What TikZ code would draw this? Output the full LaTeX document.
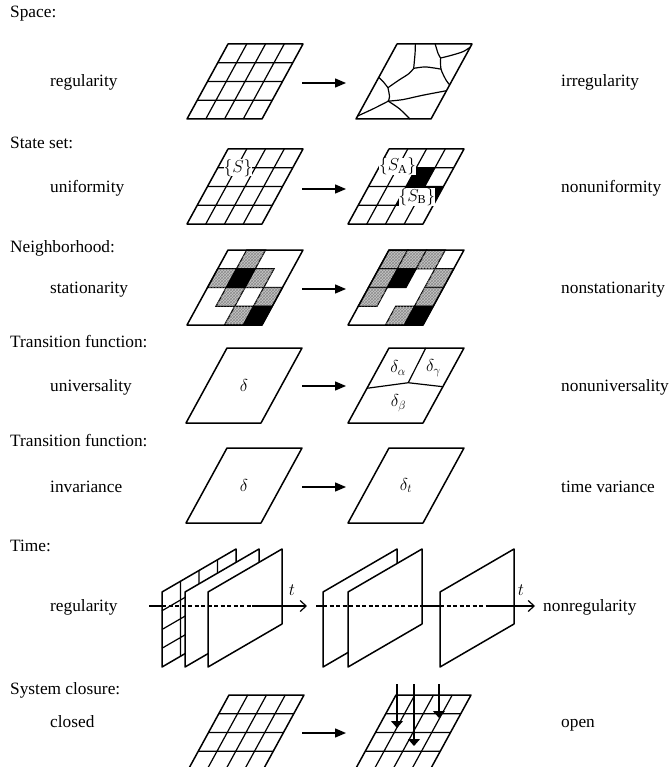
\documentclass[tikz,border=0pt]{standalone}
\usepackage{fontspec}
\setmainfont{Liberation Serif}
\usetikzlibrary{arrows.meta,patterns}

\newcommand\sqc[2]{(#1/4,#2/4) -- ++(0.25,0) -- ++(0,0.25) -- ++(-0.25,0) -- cycle}

\begin{document}
\begin{tikzpicture}[x=1pt, y=-1pt,
  font=\fontsize{17.3}{20}\selectfont,
  lbl/.style={anchor=base west, inner sep=0pt},
  rim/.style={line width=1.5pt, line join=round},
  gl/.style={line width=1.2pt},
  pgram/.style={shift={#1}, x={(75pt,0pt)}, y={(41pt,75pt)}},
  plane/.style={shift={#1}, x={(74pt,43pt)}, y={(0pt,75pt)}},
  shd/.style={fill=gray!45, postaction={pattern=crosshatch, pattern color=gray!90}},
  blk/.style={fill=black},
  tag/.style={fill=white, inner sep=0pt},
  arr/.style={line width=1.4pt, -{Triangle[length=11pt,width=9pt]}},
  drop/.style={line width=1.1pt, -{Triangle[length=7pt,width=12pt]}},
  axis/.style={line width=1.2pt},
  hid/.style={line width=1.2pt, dash pattern=on 4pt off 2.5pt}]
\useasboundingbox[fill=white] (0,0) rectangle (669,767);

\node[lbl] (hspace) at (10,18) {Space:};
\node[lbl] (reg) at (50,87) {regularity};
\node[lbl] (irreg) at (561,87) {irregularity};
\node[lbl] (hstate) at (10,149) {State set:};
\node[lbl] (unif) at (50,193) {uniformity};
\node[lbl] (nunif) at (561,193) {nonuniformity};
\node[lbl] (hnbh) at (10,252) {Neighborhood:};
\node[lbl] (stat) at (50,293) {stationarity};
\node[lbl] (nstat) at (561,293) {nonstationarity};
\node[lbl] (htf) at (10,347) {Transition function:};
\node[lbl] (univ) at (50,391) {universality};
\node[lbl] (nuniv) at (561,391) {nonuniversality};
\node[lbl] (htf2) at (10,446) {Transition function:};
\node[lbl] (inv) at (50,492) {invariance};
\node[lbl] (tvar) at (561,492) {time variance};
\node[lbl] (htime) at (10,551) {Time:};
\node[lbl] (treg) at (50,611) {regularity};
\node[lbl] (tnreg) at (543,611) {nonregularity};
\node[lbl] (hsys) at (10,694) {System closure:};
\node[lbl] (closed) at (50,727) {closed};
\node[lbl] (open) at (561,727) {open};

% space
\begin{scope}[pgram={(187,119)}]
  \foreach \k in {0.25,0.5,0.75} \draw[gl] (\k,0) -- (\k,1) (0,\k) -- (1,\k);
  \draw[rim] (0,0) -- (1,0) -- (1,1) -- (0,1) -- cycle;
\end{scope}
\begin{scope}[pgram={(356,119)}]
  \draw[gl] plot[smooth] coordinates {(0.245,1) (0.31,0.873) (0.40,0.675)};
  \draw[gl] plot[smooth] coordinates {(0.40,0.675) (0.548,0.694) (0.77,0.665)};
  \draw[gl] plot[smooth] coordinates {(0.509,1) (0.62,0.87) (0.684,0.813)};
  \draw[gl] plot[smooth] coordinates {(0.684,0.813) (0.82,0.853) (0.94,0.9) (1,0.96)};
  \draw[gl] plot[smooth] coordinates {(0.684,0.813) (0.77,0.665) (0.92,0.516) (1,0.456)};
  \draw[gl] plot[smooth] coordinates {(0.40,0.675) (0.373,0.603) (0.286,0.516) (0.198,0.417)};
  \draw[gl] plot[smooth] coordinates {(0.198,0.417) (0.093,0.496) (0,0.556)};
  \draw[gl] plot[smooth] coordinates {(0.198,0.417) (0.284,0.298) (0.3,0.238)};
  \draw[gl] plot[smooth] coordinates {(0.3,0.238) (0.16,0.139) (0,0.04)};
  \draw[gl] plot[smooth] coordinates {(0.3,0.238) (0.5,0.139) (0.72,0)};
  \draw[gl] plot[smooth] coordinates {(0.3,0.238) (0.48,0.258) (0.718,0.317) (1,0.377)};
  \draw[rim] (0,0) -- (1,0) -- (1,1) -- (0,1) -- cycle;
\end{scope}

% state set
\begin{scope}[pgram={(187,224)}]
  \foreach \k in {0.25,0.5,0.75} \draw[gl] (\k,0) -- (\k,1) (0,\k) -- (1,\k);
  \draw[rim] (0,0) -- (1,0) -- (1,1) -- (0,1) -- cycle;
  \node[tag] (s) at (0.27,0.75) {$\{S\}$};
\end{scope}
\begin{scope}[pgram={(348,224)}]
  \fill[blk] \sqc{2}{2} \sqc{2}{1} \sqc{3}{1};
  \foreach \k in {0.25,0.5,0.75} \draw[gl] (\k,0) -- (\k,1) (0,\k) -- (1,\k);
  \draw[rim] (0,0) -- (1,0) -- (1,1) -- (0,1) -- cycle;
  \node[tag] (sa) at (0.24,0.77) {$\{S_{\mathrm{A}}\}$};
  \node[tag] (sb) at (0.72,0.36) {$\{S_{\mathrm{B}}\}$};
\end{scope}

% neighborhood
\begin{scope}[pgram={(187,325)}]
  \foreach \c/\r in {1/3,0/2,2/2,1/1,3/1,2/0} \draw[gl,shd] \sqc{\c}{\r};
  \foreach \c/\r in {1/2,3/0} \draw[gl,blk] \sqc{\c}{\r};
  \draw[rim] (0,0) -- (1,0) -- (1,1) -- (0,1) -- cycle;
\end{scope}
\begin{scope}[pgram={(348,325)}]
  \foreach \c/\r in {0/3,1/3,2/3,0/2,3/2,0/1,3/1,2/0} \draw[gl,shd] \sqc{\c}{\r};
  \foreach \c/\r in {1/2,3/0} \draw[gl,blk] \sqc{\c}{\r};
  \draw[rim] (0,0) -- (1,0) -- (1,1) -- (0,1) -- cycle;
\end{scope}

% transition function
\begin{scope}[pgram={(186,423)}]
  \draw[rim] (0,0) -- (1,0) -- (1,1) -- (0,1) -- cycle;
  \node (d1) at (0.5,0.5) {$\delta$};
\end{scope}
\begin{scope}[pgram={(348,423)}]
  \draw[gl] (0,0.463) -- (0.51,0.537) -- (1,0.484) (0.51,0.537) -- (0.49,1);
  \draw[rim] (0,0) -- (1,0) -- (1,1) -- (0,1) -- cycle;
  \node (da) at (0.27,0.73) {$\delta_\alpha$};
  \node (dg) at (0.74,0.73) {$\delta_\gamma$};
  \node (db) at (0.53,0.263) {$\delta_\beta$};
\end{scope}
\begin{scope}[pgram={(186,523)}]
  \draw[rim] (0,0) -- (1,0) -- (1,1) -- (0,1) -- cycle;
  \node (d2) at (0.5,0.5) {$\delta$};
\end{scope}
\begin{scope}[pgram={(348,523)}]
  \draw[rim] (0,0) -- (1,0) -- (1,1) -- (0,1) -- cycle;
  \node (dt) at (0.5,0.5) {$\delta_t$};
\end{scope}

% time
\begin{scope}[plane={(162,667)}]
  \draw[rim, fill=white] (0,0) -- (1,0) -- (1,1) -- (0,1) -- cycle;
  \foreach \k in {0.25,0.5,0.75} \draw[gl] (\k,0) -- (\k,1) (0,\k) -- (1,\k);
\end{scope}
\foreach \x in {185,208,323,348,440}
  \draw[rim, fill=white, plane={(\x,667)}] (0,0) -- (1,0) -- (1,1) -- (0,1) -- cycle;
\coordinate (t0) at (149,606); \coordinate (p1) at (162,606);
\coordinate (q1) at (252,606); \coordinate (t1) at (307,606);
\coordinate (u0) at (316,606); \coordinate (p2) at (323,606);
\coordinate (q2) at (420,606); \coordinate (p3) at (440,606);
\coordinate (q3) at (490,606); \coordinate (u1) at (535,606);
\draw[axis] (t0) -- (p1);
\draw[hid] (p1) -- (q1);
\draw[axis, -{Straight Barb[length=6pt,width=11pt]}] (q1) -- (t1);
\draw[axis] (u0) -- (p2);
\draw[hid] (p2) -- (q2);
\draw[axis] (q2) -- (p3);
\draw[hid] (p3) -- (q3);
\draw[axis, -{Straight Barb[length=6pt,width=11pt]}] (q3) -- (u1);
\node (tl1) at (292,590) {$t$};
\node (tl2) at (521,590) {$t$};

% system closure
\begin{scope}[pgram={(188,770)}]
  \foreach \k in {0.25,0.5,0.75} \draw[gl] (\k,0) -- (\k,1) (0,\k) -- (1,\k);
  \draw[rim] (0,0) -- (1,0) -- (1,1) -- (0,1) -- cycle;
\end{scope}
\begin{scope}[pgram={(355,770)}]
  \foreach \k in {0.25,0.5,0.75} \draw[gl] (\k,0) -- (\k,1) (0,\k) -- (1,\k);
  \draw[rim] (0,0) -- (1,0) -- (1,1) -- (0,1) -- cycle;
\end{scope}
\foreach \i/\x/\y in {1/397/728,2/414/746,3/439/718} {
  \coordinate (d\i) at (\x,684);
  \coordinate (e\i) at (\x,\y);
  \draw[drop] (d\i) -- (e\i);
}

% arrows
\foreach \i/\y in {1/83,2/189,3/289,4/386,5/487,7/733} {
  \coordinate (a\i) at (302,\y);
  \coordinate (b\i) at (346,\y);
  \draw[arr] (a\i) -- (b\i);
}
\end{tikzpicture}
\end{document}
